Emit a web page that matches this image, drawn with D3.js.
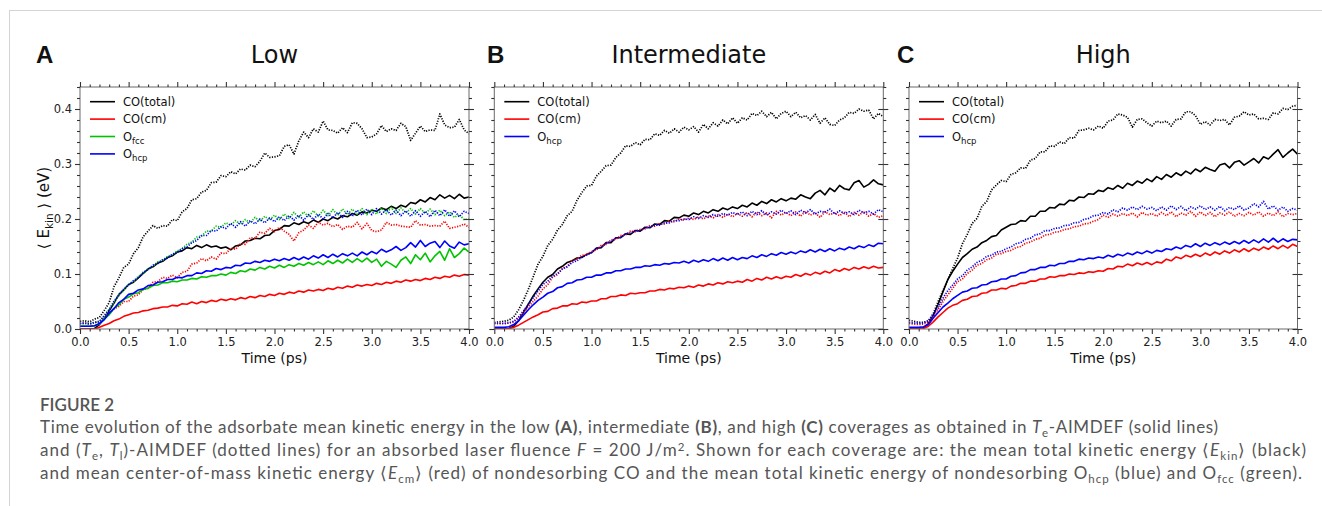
<!DOCTYPE html>
<html><head><meta charset="utf-8">
<script src="https://cdn.jsdelivr.net/npm/d3@7"></script>
<style>body{margin:0;background:#fff}svg{display:block}text{white-space:pre}</style>
</head><body>
<svg id="chart" width="1322" height="506"></svg>
<script>
// ---------------- data (energies in meV, time in ps) ----------------
const time = [0,0.05,0.1,0.15,0.2,0.25,0.3,0.35,0.4,0.45,0.5,0.55,0.6,0.65,0.7,0.75,0.8,0.85,0.9,0.95,
1,1.05,1.1,1.15,1.2,1.25,1.3,1.35,1.4,1.45,1.5,1.55,1.6,1.65,1.7,1.75,1.8,1.85,1.9,1.95,
2,2.05,2.1,2.15,2.2,2.25,2.3,2.35,2.4,2.45,2.5,2.55,2.6,2.65,2.7,2.75,2.8,2.85,2.9,2.95,
3,3.05,3.1,3.15,3.2,3.25,3.3,3.35,3.4,3.45,3.5,3.55,3.6,3.65,3.7,3.75,3.8,3.85,3.9,3.95,4];
const xMajorTicks = [0,0.5,1,1.5,2,2.5,3,3.5,4];
const xTickLabels = ["0.0","0.5","1.0","1.5","2.0","2.5","3.0","3.5","4.0"];
const yMajorTicks = [0,100,200,300,400];
const yTickLabels = ["0.0","0.1","0.2","0.3","0.4"];
const panelLetters = ["A","B","C"];
const panelTitles = ["Low","Intermediate","High"];

// Panel A (low coverage)
const lowTotTe = [0,0,0,1,8,19,33,47,63,71,81,85,93,101,109,113,120,123,130,133,140,142,148,146,152,148,153,149,151,147,149,144,151,153,160,161,165,164,170,171,179,181,188,187,193,190,195,192,198,194,200,197,203,200,206,204,210,207,213,211,216,214,220,217,223,219,225,222,230,228,235,231,239,235,244,238,243,237,245,238,240];
const lowTotTeTl = [14,15,13,18,21,34,48,77,93,112,118,137,148,168,178,188,183,188,187,199,197,213,219,235,237,249,252,266,267,279,277,286,282,291,289,298,295,305,320,312,313,315,332,335,318,342,358,348,364,358,378,362,361,356,366,357,375,374,364,348,349,355,370,359,364,361,374,368,343,356,369,359,362,361,391,371,366,367,381,362,355];
const lowCmTe = [0,0,0,0,3,7,10,15,18,23,26,29,30,33,34,37,38,40,40,43,42,46,45,49,46,50,48,52,50,54,52,55,53,57,55,59,57,61,59,63,61,65,63,67,65,69,67,71,69,72,70,74,72,76,74,78,76,80,78,81,79,83,81,85,83,87,85,89,87,90,88,92,90,94,92,96,94,98,96,99,98];
const lowCmTeTl = [10,11,9,12,13,22,27,37,41,50,50,60,62,72,74,85,86,94,92,98,93,103,105,118,120,128,124,131,127,138,137,147,145,155,154,166,165,176,174,183,177,185,178,172,160,175,180,189,183,194,189,192,186,190,181,187,185,194,182,192,179,177,180,194,189,190,187,186,185,197,189,190,187,188,187,196,183,185,187,191,185];
const lowFccTe = [5,5,5,6,9,18,26,38,44,54,58,64,66,72,74,79,80,84,84,87,86,89,89,92,91,95,94,97,97,100,98,103,101,106,104,109,107,112,109,114,111,116,112,117,114,119,116,121,117,122,117,124,119,125,120,127,121,128,122,129,121,127,114,123,118,112,125,131,119,135,126,138,122,133,141,125,146,130,137,147,140];
const lowFccTeTl = [10,9,11,11,15,22,36,48,62,70,81,86,96,101,110,114,122,125,132,135,142,146,154,158,167,169,178,178,187,185,193,189,197,190,199,193,203,196,205,198,207,199,209,201,212,203,213,204,215,205,216,206,217,207,218,208,218,209,219,208,218,209,220,210,221,210,220,211,219,209,219,210,218,208,216,206,213,203,208,199,200];
const lowHcpTe = [5,5,5,6,10,17,29,37,48,54,63,65,71,73,79,80,85,86,90,90,94,93,97,97,102,101,106,105,110,108,112,111,116,115,120,119,123,121,125,123,127,124,128,125,130,126,131,127,133,129,135,130,136,131,137,133,138,133,140,135,141,137,145,140,144,150,143,148,157,149,161,150,156,159,148,160,151,147,158,153,155];
const lowHcpTeTl = [10,11,9,12,13,25,35,51,61,73,80,88,93,103,108,116,119,126,129,136,139,146,149,157,161,170,170,179,178,186,183,192,185,195,187,197,191,200,193,202,195,204,197,206,198,207,198,208,199,209,200,210,202,212,203,214,205,216,207,218,208,219,209,217,207,216,206,215,205,215,205,214,204,216,206,217,205,215,204,214,210];

// Panel B (intermediate coverage)
const midTotTe = [0,0,0,1,5,15,30,45,60,73,85,94,99,109,114,121,124,129,130,136,139,147,148,157,157,166,166,173,172,179,178,185,184,191,190,197,196,203,202,207,205,211,208,214,211,217,214,220,217,222,219,225,222,229,225,232,228,235,231,237,233,238,236,244,240,237,247,252,244,256,250,261,255,253,266,270,258,263,271,264,262];
const midTotTeTl = [12,13,14,16,22,35,52,72,95,118,132,152,163,180,190,206,214,234,248,260,261,278,287,297,298,312,320,333,332,339,335,345,344,355,352,361,356,364,358,367,362,368,358,372,364,375,369,380,373,384,374,384,380,392,388,396,386,394,382,392,396,386,394,384,388,380,390,374,384,372,370,380,384,394,392,400,396,398,382,392,386];
const midCmTe = [0,0,0,1,3,7,12,17,22,26,31,32,37,38,42,42,46,45,49,48,51,51,55,55,59,59,62,61,65,64,66,66,69,69,72,71,74,73,76,75,78,76,80,78,82,80,84,82,86,84,87,85,90,87,92,89,94,91,95,92,96,94,99,96,101,98,103,100,105,102,108,105,110,107,112,109,113,110,114,111,112];
const midCmTeTl = [10,10,10,11,13,20,30,40,50,60,73,81,94,99,110,114,124,127,134,135,141,144,152,154,162,163,170,171,178,177,181,182,188,187,192,191,196,195,200,198,202,199,204,200,206,202,208,203,209,204,210,205,212,204,213,206,211,202,214,207,212,206,213,205,214,207,211,203,213,208,211,206,213,204,212,207,214,205,210,203,206];
const midHcpTe = [3,3,3,4,8,15,25,35,44,52,58,65,68,75,77,83,84,89,90,94,94,98,98,102,102,106,106,109,109,112,112,115,114,117,116,119,118,121,120,123,120,125,122,126,123,128,124,129,125,130,126,130,128,133,130,135,132,137,134,139,136,140,137,142,139,144,140,145,141,146,142,147,144,149,146,151,148,153,150,156,155];
const midHcpTeTl = [10,10,10,11,14,22,33,45,57,69,81,87,96,101,109,113,121,124,131,134,139,146,149,156,159,165,167,173,175,179,179,184,185,189,189,193,193,197,197,200,199,204,201,206,203,208,205,210,207,212,208,213,206,214,208,215,207,213,209,216,210,215,208,216,211,217,209,214,212,218,209,215,210,213,208,216,211,214,209,217,213];

// Panel C (high coverage)
const highTotTe = [0,0,0,2,10,25,45,68,90,105,118,130,137,145,149,157,161,168,170,180,185,190,191,197,196,205,205,214,214,221,220,227,226,234,233,240,239,246,245,252,250,257,254,261,256,265,261,269,265,273,268,277,272,281,276,284,279,287,282,291,286,294,290,287,298,301,293,303,306,298,304,310,302,313,309,318,326,312,320,327,318];
const highTotTeTl = [16,14,12,12,15,28,50,70,90,110,129,155,172,192,201,223,232,253,262,270,268,281,284,293,292,307,310,322,322,333,332,340,337,348,347,361,362,365,362,369,365,378,380,391,389,385,367,381,382,375,369,378,375,378,369,381,382,395,395,388,372,377,371,381,379,381,371,385,387,395,389,391,382,383,381,393,391,401,399,405,407];
const highCmTe = [0,0,0,1,5,13,22,30,38,43,46,52,54,59,60,65,66,71,71,74,73,78,79,83,83,87,87,91,91,95,94,97,97,100,99,102,101,104,103,106,105,110,109,114,113,118,115,120,117,121,117,122,120,127,124,131,128,134,131,136,132,138,134,140,136,142,138,144,140,146,141,147,143,149,145,151,146,152,147,154,150];
const highCmTeTl = [10,9,8,9,12,22,35,50,62,74,86,91,101,107,116,119,126,129,136,137,141,143,148,150,156,158,163,165,171,172,176,177,181,182,186,187,191,192,196,199,207,203,209,205,210,206,211,204,212,207,210,205,212,206,213,204,211,207,214,205,213,206,212,204,211,207,213,205,210,206,212,207,213,205,211,206,213,204,210,208,210];
const highHcpTe = [3,3,3,4,8,20,30,40,47,55,61,67,69,74,75,80,81,86,87,91,91,96,97,102,103,108,108,112,112,116,115,119,119,123,123,127,126,129,128,131,129,134,131,136,133,138,135,140,137,142,138,143,141,146,144,149,146,152,149,155,150,156,152,157,153,158,154,159,155,161,156,162,157,164,158,165,158,164,159,163,162];
const highHcpTeTl = [12,11,10,11,15,26,40,56,70,80,91,97,107,113,121,125,132,134,140,141,146,149,155,157,163,165,171,173,179,179,183,184,188,189,193,194,199,201,206,207,212,209,217,213,220,216,222,217,223,218,221,215,222,216,224,217,223,215,222,218,224,217,222,216,223,215,221,217,224,216,220,228,222,232,218,224,216,222,214,219,216];

const seriesColors = {tot:"#000000", cm:"#ff0000", fcc:"#00c400", hcp:"#0000ff"};
const legendLabels = {tot:[["CO(total)"]], cm:[["CO(cm)"]], fcc:[["O"],["fcc","sub"]], hcp:[["O"],["hcp","sub"]]};

// ---------------- layout ----------------
const svg = d3.select("#chart");
const yTop = 87, yBot = 329;
const panels = [
  {x0:80, x1:469, lx:36, legend:["tot","cm","fcc","hcp"],
   lines:[["tot",lowTotTeTl,true],["tot",lowTotTe,false],["cm",lowCmTeTl,true],["cm",lowCmTe,false],
          ["fcc",lowFccTeTl,true],["fcc",lowFccTe,false],["hcp",lowHcpTeTl,true],["hcp",lowHcpTe,false]]},
  {x0:494.3, x1:883.3, lx:487, legend:["tot","cm","hcp"],
   lines:[["tot",midTotTeTl,true],["tot",midTotTe,false],["cm",midCmTeTl,true],["cm",midCmTe,false],
          ["hcp",midHcpTeTl,true],["hcp",midHcpTe,false]]},
  {x0:909, x1:1297.5, lx:897, legend:["tot","cm","hcp"],
   lines:[["tot",highTotTeTl,true],["tot",highTotTe,false],["cm",highCmTeTl,true],["cm",highCmTe,false],
          ["hcp",highHcpTeTl,true],["hcp",highHcpTe,false]]}
];

function rich(sel, segs, subSize){
  let shift = 0;
  segs.forEach(([t,s])=>{
    const ts = sel.append("tspan").text(t);
    const target = s==="sub" ? 3.5 : (s==="sup" ? -5 : 0);
    if (target !== shift){ ts.attr("dy", target - shift); shift = target; }
    if (s==="sub"||s==="sup") ts.attr("font-size", subSize);
    if (s==="b") ts.attr("font-weight","bold");
    if (s==="i") ts.attr("font-style","italic");
  });
}

// border
svg.append("line").attr("x1",10).attr("x2",1322).attr("y1",10.5).attr("y2",10.5).attr("stroke","#d4d4d4");
svg.append("line").attr("x1",9.5).attr("x2",9.5).attr("y1",10).attr("y2",506).attr("stroke","#d4d4d4");

const y = d3.scaleLinear().domain([0,440]).range([yBot,yTop]);
const yMinor = d3.range(0,441,20).filter(v=>v%100!==0);
const xMinor = d3.range(0,4.01,0.1).filter(v=>Math.abs(v*2-Math.round(v*2))>1e-6);
const font = "DejaVu Sans";

panels.forEach((p,pi)=>{
  const x = d3.scaleLinear().domain([0,4]).range([p.x0,p.x1]);
  const g = svg.append("g");

  const clipId = "clip"+pi;
  svg.append("clipPath").attr("id",clipId).append("rect")
     .attr("x",p.x0).attr("y",yTop).attr("width",p.x1-p.x0).attr("height",yBot-yTop);
  const line = d3.line().x((d,i)=>x(time[i])).y(d=>y(d));
  const lg = g.append("g").attr("clip-path",`url(#${clipId})`);
  p.lines.forEach(([key,vals,dotted])=>{
    lg.append("path").datum(vals).attr("d",line).attr("fill","none")
      .attr("stroke",seriesColors[key]).attr("stroke-width",dotted?1.7:1.6)
      .attr("stroke-dasharray",dotted?"1.2,1.4":null).attr("stroke-linejoin","round");
  });

  g.append("rect").attr("x",p.x0).attr("y",yTop).attr("width",p.x1-p.x0).attr("height",yBot-yTop)
   .attr("fill","none").attr("stroke","#6a6a6a").attr("stroke-width",1);

  function styleAxis(sel){
    sel.select(".domain").remove();
    sel.selectAll("line").attr("stroke","#333").attr("stroke-width",1.1);
    sel.selectAll("text").attr("font-family",font).attr("font-size",11.5).attr("fill","#222");
  }
  g.append("g").attr("transform",`translate(0,${yBot})`)
   .call(d3.axisBottom(x).tickValues(xMajorTicks).tickSize(5).tickPadding(3.5)
        .tickFormat((d,i)=>xTickLabels[i])).call(styleAxis);
  g.append("g").attr("transform",`translate(0,${yBot})`)
   .call(d3.axisBottom(x).tickValues(xMinor).tickSize(2.5).tickFormat("")).call(styleAxis);
  g.append("g").attr("transform",`translate(0,${yTop})`)
   .call(d3.axisTop(x).tickValues(xMajorTicks).tickSize(5).tickFormat("")).call(styleAxis);
  g.append("g").attr("transform",`translate(0,${yTop})`)
   .call(d3.axisTop(x).tickValues(xMinor).tickSize(2.5).tickFormat("")).call(styleAxis);
  g.append("g").attr("transform",`translate(${p.x0},0)`)
   .call(d3.axisLeft(y).tickValues(yMajorTicks).tickSize(5).tickPadding(3)
        .tickFormat((d,i)=> pi===0 ? yTickLabels[i] : "")).call(styleAxis);
  g.append("g").attr("transform",`translate(${p.x0},0)`)
   .call(d3.axisLeft(y).tickValues(yMinor).tickSize(3).tickFormat("")).call(styleAxis);
  g.append("g").attr("transform",`translate(${p.x1},0)`)
   .call(d3.axisRight(y).tickValues(yMajorTicks).tickSize(5).tickFormat("")).call(styleAxis);
  g.append("g").attr("transform",`translate(${p.x1},0)`)
   .call(d3.axisLeft(y).tickValues(yMajorTicks).tickSize(5).tickFormat("")).call(styleAxis);
  g.append("g").attr("transform",`translate(${p.x1},0)`)
   .call(d3.axisRight(y).tickValues(yMinor).tickSize(3).tickFormat("")).call(styleAxis);

  g.append("text").attr("x",(p.x0+p.x1)/2).attr("y",363).attr("text-anchor","middle")
   .attr("font-family",font).attr("font-size",14).attr("fill","#111").text("Time (ps)");

  g.append("text").attr("x",(p.x0+p.x1)/2).attr("y",63).attr("text-anchor","middle")
   .attr("font-family",font).attr("font-size",24).attr("fill","#111").text(panelTitles[pi]);
  g.append("text").attr("x",p.lx).attr("y",63)
   .attr("font-family","Liberation Sans, Arial, sans-serif").attr("font-weight","bold")
   .attr("font-size",24).attr("fill","#111").text(panelLetters[pi]);

  p.legend.forEach((key,k)=>{
    const ly = 101.7 + k*17.4;
    g.append("line").attr("x1",p.x0+10).attr("x2",p.x0+35).attr("y1",ly).attr("y2",ly)
     .attr("stroke",seriesColors[key]).attr("stroke-width",1.6);
    const t = g.append("text").attr("x",p.x0+43).attr("y",ly+4)
     .attr("font-family",font).attr("font-size",11.5).attr("fill","#111");
    rich(t, legendLabels[key], 8.5);
  });
});

const yl = svg.append("text").attr("transform","translate(49,208) rotate(-90)")
  .attr("text-anchor","middle").attr("font-family",font).attr("font-size",15).attr("fill","#111");
rich(yl, [["\u27E8 E"],["kin","sub"],[" \u27E9 (eV)"]], 10.5);

const capFont = "Lato";
svg.append("text").attr("x",40).attr("y",411).attr("font-family",capFont).attr("font-size",17)
   .attr("font-weight",600).attr("fill","#555").text("FIGURE 2");
const capLines = [
  {y:433, len:1178, segs:[["Time evolution of the adsorbate mean kinetic energy in the low "],["(A)","b"],[", intermediate "],["(B)","b"],[", and high "],["(C)","b"],[" coverages as obtained in "],["T","i"],["e","sub"],["-AIMDEF (solid lines)"]]},
  {y:456, len:1266, segs:[["and ("],["T","i"],["e","sub"],[", "],["T","i"],["l","sub"],[")-AIMDEF (dotted lines) for an absorbed laser fluence "],["F","i"],[" = 200 J/m"],["2","sup"],[". Shown for each coverage are: the mean total kinetic energy \u27E8"],["E","i"],["kin","sub"],["\u27E9 (black)"]]},
  {y:479, len:1262, segs:[["and mean center-of-mass kinetic energy \u27E8"],["E","i"],["cm","sub"],["\u27E9 (red) of nondesorbing CO and the mean total kinetic energy of nondesorbing O"],["hcp","sub"],[" (blue) and O"],["fcc","sub"],[" (green)."]]}
];
capLines.forEach(c=>{
  const t = svg.append("text").attr("x",40).attr("y",c.y).attr("font-family",capFont)
    .attr("font-size",17).attr("fill","#555")
    .attr("textLength",c.len).attr("lengthAdjust","spacing");
  rich(t, c.segs, 11.5);
});
</script>
</body></html>
